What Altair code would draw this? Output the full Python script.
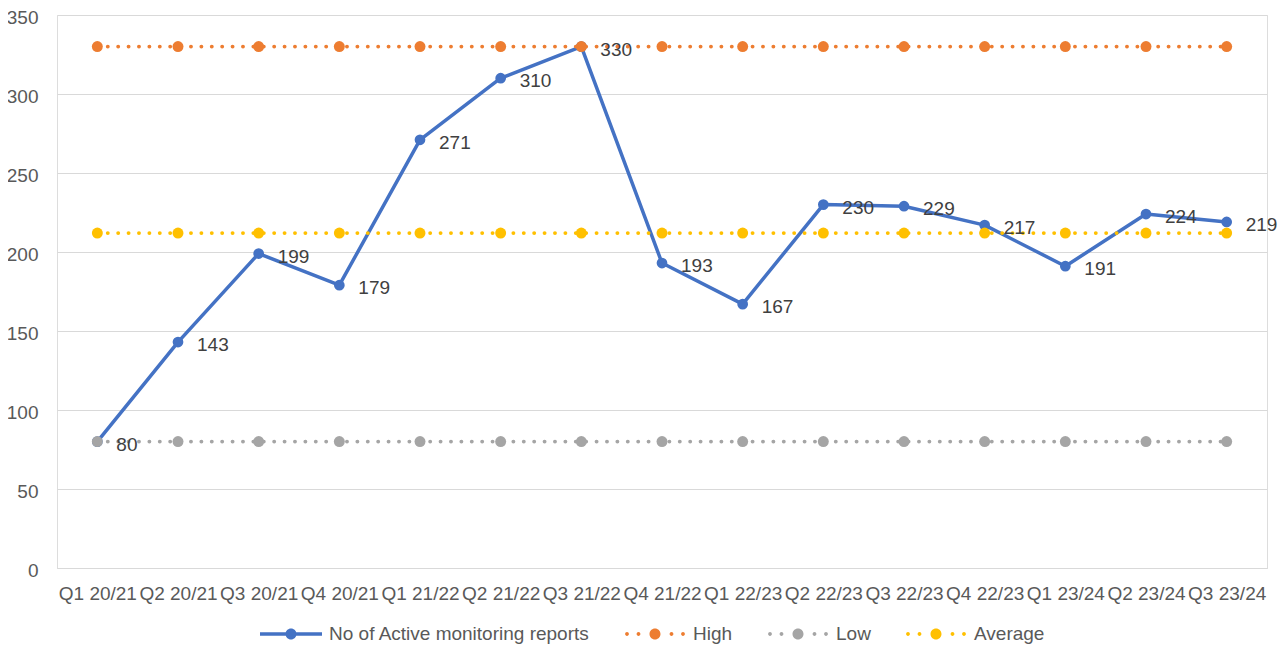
import altair as alt
import pandas as pd

quarters = ["Q1 20/21", "Q2 20/21", "Q3 20/21", "Q4 20/21",
            "Q1 21/22", "Q2 21/22", "Q3 21/22", "Q4 21/22",
            "Q1 22/23", "Q2 22/23", "Q3 22/23", "Q4 22/23",
            "Q1 23/24", "Q2 23/24", "Q3 23/24"]
reports = [80, 143, 199, 179, 271, 310, 330, 193, 167, 230, 229, 217, 191, 224, 219]
high = [330] * 15
low = [80] * 15
average = [212] * 15

series_names = ["No of Active monitoring reports", "High", "Low", "Average"]
series_colors = ["#4472C4", "#ED7D31", "#A5A5A5", "#FFC000"]

rows = []
for name, vals in zip(series_names, [reports, high, low, average]):
    for q, v in zip(quarters, vals):
        rows.append({"quarter": q, "value": v, "series": name})
df = pd.DataFrame(rows)

FONT = "Liberation Sans"
GRID = "#D9D9D9"
TXT = "#595959"

color_scale = alt.Scale(domain=series_names, range=series_colors)

# legend symbol shapes (line + marker)
def dot(cx, r):
    return f"M{cx - r},0A{r},{r},0,1,1,{cx + r},0A{r},{r},0,1,1,{cx - r},0Z"

solid_sym = "M-3.1,-0.17H-0.3V0.17H-3.1Z" + "M0.3,-0.17H3.1V0.17H0.3Z" + dot(0, 0.55)
dotted_sym = dot(-2.8, 0.19) + dot(-1.65, 0.19) + dot(0, 0.55) + dot(1.65, 0.19) + dot(2.8, 0.19)
shape_scale = alt.Scale(domain=series_names, range=[solid_sym, dotted_sym, dotted_sym, dotted_sym])

x_enc = alt.X("quarter:N", sort=quarters, title=None,
              scale=alt.Scale(type="point", padding=0.5),
              axis=alt.Axis(labelAngle=0, labelFont=FONT, labelFontSize=19, labelColor=TXT,
                            ticks=False, domainColor=GRID, domainWidth=1, grid=False,
                            labelPadding=16))
y_enc = alt.Y("value:Q", title=None,
              scale=alt.Scale(domain=[0, 350], nice=False),
              axis=alt.Axis(values=[0, 50, 100, 150, 200, 250, 300, 350],
                            labelFont=FONT, labelFontSize=19, labelColor=TXT,
                            ticks=False, domain=False, gridColor=GRID, gridWidth=1,
                            labelPadding=19, labelOffset=2))

color_enc = alt.Color("series:N", scale=color_scale)

base = alt.Chart(df)
main = base.transform_filter(alt.datum.series == series_names[0])
refs = base.transform_filter(alt.datum.series != series_names[0])

main_line = main.mark_line(strokeWidth=3.5, strokeJoin="round").encode(
    x=x_enc, y=y_enc, color=color_enc)
main_pts = main.mark_circle(size=115, opacity=1).encode(x=x_enc, y=y_enc, color=color_enc)

ref_line = refs.mark_line(strokeWidth=3.8, strokeCap="round", strokeDash=[0.1, 10.3]).encode(
    x=x_enc, y=y_enc, color=color_enc, detail="series:N")
ref_pts = refs.mark_circle(size=120, opacity=1).encode(x=x_enc, y=y_enc, color=color_enc)

labels = main.mark_text(align="left", baseline="middle", dx=19, dy=3,
                        font=FONT, fontSize=19, color="#404040").encode(
    x=x_enc, y=y_enc, text="value:Q")

legend_layer = base.mark_point(filled=True, opacity=0, size=10).encode(
    x=x_enc, y=y_enc,
    color=alt.Color("series:N", scale=color_scale,
                    legend=alt.Legend(title=None, orient="none", legendX=224, legendY=609,
                                      direction="horizontal", symbolSize=400, symbolOpacity=1,
                                      symbolStrokeWidth=0, labelOffset=28, columnPadding=35,
                                      labelFont=FONT, labelFontSize=19, labelColor=TXT,
                                      labelLimit=400)),
    shape=alt.Shape("series:N", scale=shape_scale))

chart = alt.layer(main_line, main_pts, ref_line, ref_pts, labels, legend_layer).properties(
    width=1210, height=553,
    autosize=alt.AutoSizeParams(type="none"),
    padding={"left": 49, "top": 7, "right": 11, "bottom": 77},
).configure_view(stroke=None).configure(background="white")

chart.save("out.html", embed_options={"renderer": "svg", "actions": False})
